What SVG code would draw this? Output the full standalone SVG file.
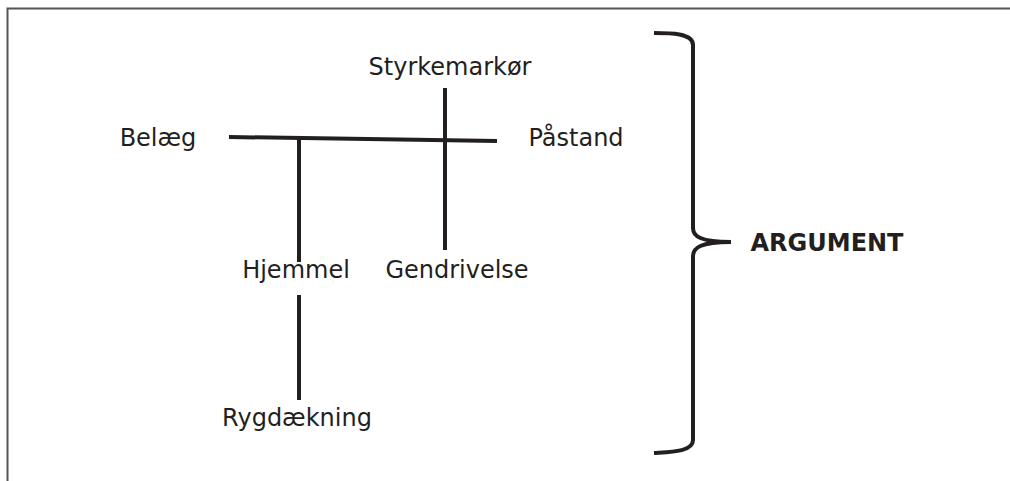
<svg xmlns="http://www.w3.org/2000/svg" width="1010" height="481" viewBox="0 0 1010 481">
<style>
.t{font-family:"DejaVu Sans",Verdana,sans-serif;font-size:24px;fill:#231f20}
.b{font-weight:bold}
.ln{stroke:#231f20;stroke-width:4;fill:none}
</style>
<rect width="1010" height="481" fill="#fff"/>
<path d="M7.5 481V8.5H1010" fill="none" stroke="#555" stroke-width="2"/>
<g id="connectors">
<path class="ln" d="M229 137L497 141"/>
<path class="ln" d="M299 139V262"/>
<path class="ln" d="M445 88V250"/>
<path class="ln" d="M299 295V400"/>
<path class="ln" stroke-width="5" d="M654 33C670 33 693 33 693 45V228C693 236 700 242 731 242C700 242 693 248 693 256V440C693 452 670 452 654 453"/>
</g>
<g id="styrkemarkor"><text class="t" x="450" y="75" text-anchor="middle">Styrkemarkør</text></g>
<g id="belaeg"><text class="t" x="158" y="146" text-anchor="middle">Belæg</text></g>
<g id="pastand"><text class="t" x="576" y="146" text-anchor="middle">Påstand</text></g>
<g id="hjemmel"><text class="t" x="296" y="278" text-anchor="middle">Hjemmel</text></g>
<g id="gendrivelse"><text class="t" x="457" y="278" text-anchor="middle">Gendrivelse</text></g>
<g id="rygdaekning"><text class="t" x="297" y="426" text-anchor="middle">Rygdækning</text></g>
<g id="argument"><text class="t b" x="827" y="251" text-anchor="middle">ARGUMENT</text></g>
</svg>
